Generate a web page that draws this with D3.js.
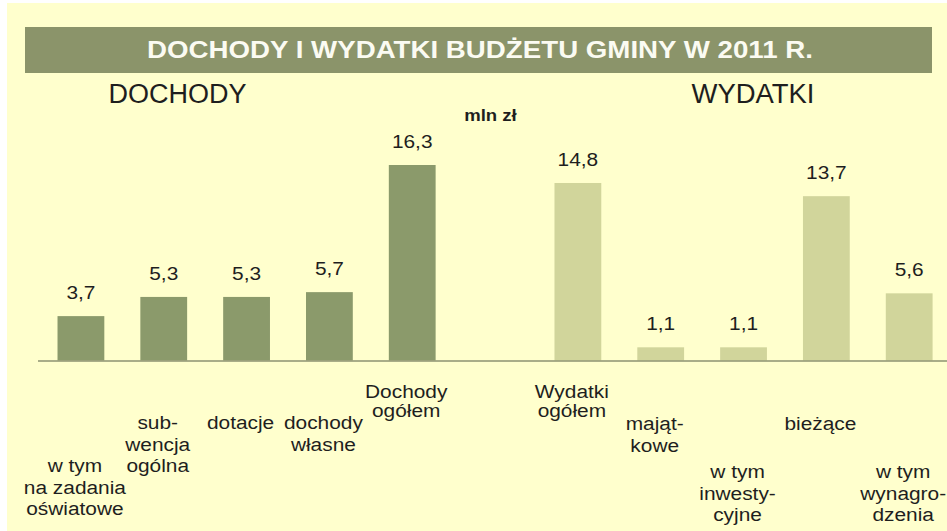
<!DOCTYPE html>
<html>
<head>
<meta charset="utf-8">
<script src="https://cdn.jsdelivr.net/npm/d3@7"></script>
<style>
  body { margin: 0; background: #fff; }
  text { font-family: 'Liberation Sans', Arial, sans-serif; fill: #1e1e1e; }
</style>
</head>
<body>
<svg id="chart"></svg>
<script>
// dane z wykresu (mln zł)
const incomeKeys = ['oswiatowe', 'subwencja', 'dotacje', 'wlasne', 'dochodyOgolem']
const incomeValues = [3.7, 5.3, 5.3, 5.7, 16.3]
const incomeLabels = [
  ['w tym', 'na zadania', 'oświatowe'],
  ['sub-', 'wencja', 'ogólna'],
  ['dotacje'],
  ['dochody', 'własne'],
  ['Dochody', 'ogółem'],
]
const expenseKeys = ['wydatkiOgolem', 'majatkowe', 'inwestycyjne', 'biezace', 'wynagrodzenia']
const expenseValues = [14.8, 1.1, 1.1, 13.7, 5.6]
const expenseLabels = [
  ['Wydatki', 'ogółem'],
  ['mająt-', 'kowe'],
  ['w tym', 'inwesty-', 'cyjne'],
  ['bieżące'],
  ['w tym', 'wynagro-', 'dzenia'],
]
const titleText = 'DOCHODY I WYDATKI BUDŻETU GMINY W 2011 R.'
const unitText = 'mln zł'

const width = 947
const height = 531
const baseline = 360.5
const stretch = 1.16

// pierwsza linia podpisu (y) i odstęp linii, po kolei dla 10 słupków
const labelLayout = [
  { y: 472, lh: 21.5 }, { y: 429, lh: 21.5 }, { y: 429, lh: 21.5 }, { y: 429, lh: 21.5 }, { y: 398, lh: 19 },
  { y: 398, lh: 19 }, { y: 430, lh: 22 }, { y: 478, lh: 21.7 }, { y: 430, lh: 21.5 }, { y: 478, lh: 21.7 },
]

const svg = d3.select('#chart').attr('width', width).attr('height', height)

svg.append('rect')
  .attr('x', 7).attr('y', 3)
  .attr('width', width - 7).attr('height', height - 3)
  .attr('fill', '#ffffcd')

// pasek tytułu
svg.append('rect')
  .attr('x', 25).attr('y', 27)
  .attr('width', 907).attr('height', 46)
  .attr('fill', '#8b946a')

svg.append('text')
  .attr('x', 480).attr('y', 57.5)
  .attr('text-anchor', 'middle')
  .attr('textLength', 666)
  .attr('lengthAdjust', 'spacingAndGlyphs')
  .style('font-size', '23.5px')
  .style('font-weight', 'bold')
  .style('fill', '#fbfbf2')
  .text(titleText)

svg.append('text')
  .attr('x', 177.5).attr('y', 103)
  .attr('text-anchor', 'middle')
  .attr('textLength', 138)
  .attr('lengthAdjust', 'spacingAndGlyphs')
  .style('font-size', '27px')
  .text('DOCHODY')

svg.append('text')
  .attr('x', 753).attr('y', 103)
  .attr('text-anchor', 'middle')
  .attr('textLength', 123)
  .attr('lengthAdjust', 'spacingAndGlyphs')
  .style('font-size', '27px')
  .text('WYDATKI')

svg.append('text')
  .attr('transform', `translate(490.5,120.5) scale(${stretch},1)`)
  .attr('text-anchor', 'middle')
  .style('font-size', '16px')
  .style('font-weight', 'bold')
  .text(unitText)

const data = incomeKeys.map((k, i) => ({ key: k, value: incomeValues[i], lines: incomeLabels[i], side: 'in' }))
  .concat(expenseKeys.map((k, i) => ({ key: k, value: expenseValues[i], lines: expenseLabels[i], side: 'out' })))

// pusty slot między dochodami i wydatkami
const domain = incomeKeys.concat(['gap'], expenseKeys)

const xScale = d3.scaleBand()
  .domain(domain)
  .range([39.5, 950.6])
  .paddingInner(0.435)
  .paddingOuter(0.2175)

const yScale = d3.scaleLinear()
  .domain([0, d3.max(data, (d) => d.value)])
  .range([baseline, baseline - 195.5])

const fmt = (v) => d3.format('.1f')(v).replace('.', ',')

svg.append('g').selectAll('rect').data(data).enter()
  .append('rect')
  .attr('x', (d) => xScale(d.key))
  .attr('y', (d) => yScale(d.value))
  .attr('width', xScale.bandwidth())
  .attr('height', (d) => baseline - yScale(d.value))
  .attr('fill', (d) => d.side === 'in' ? '#8b9a6b' : '#d1d59b')

svg.append('line')
  .attr('x1', 38).attr('x2', width)
  .attr('y1', baseline + 0.5).attr('y2', baseline + 0.5)
  .attr('stroke', '#8d9270')
  .attr('stroke-width', 1.5)

svg.append('g').selectAll('text').data(data).enter()
  .append('text')
  .attr('transform', (d) => `translate(${xScale(d.key) + xScale.bandwidth() / 2},${yScale(d.value) - 17}) scale(${stretch},1)`)
  .attr('text-anchor', 'middle')
  .style('font-size', '18px')
  .text((d) => fmt(d.value))

const labels = svg.append('g').selectAll('g').data(data).enter()
  .append('g')
  .attr('transform', (d, i) => `translate(${xScale(d.key) + xScale.bandwidth() / 2 - 6},${labelLayout[i].y})`)

labels.each(function (d, i) {
  const g = d3.select(this)
  d.lines.forEach((line, j) => {
    g.append('text')
      .attr('transform', `translate(0,${j * labelLayout[i].lh}) scale(${stretch},1)`)
      .attr('text-anchor', 'middle')
      .style('font-size', '18px')
      .text(line)
  })
})
</script>
</body>
</html>
